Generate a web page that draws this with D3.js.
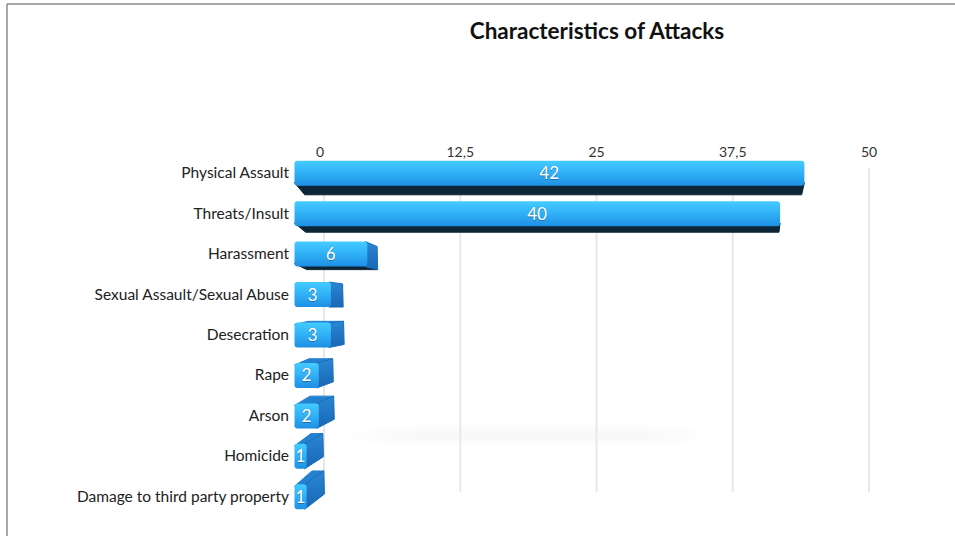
<!DOCTYPE html>
<html>
<head>
<meta charset="utf-8">
<script src="https://cdn.jsdelivr.net/npm/d3@7"></script>
<style>
  html, body { margin: 0; padding: 0; background: #fff; }
  svg { display: block; }
</style>
</head>
<body>
<svg id="chart" width="955" height="536"></svg>
<script>
// Attack categories and their counts
const categories = [
  "Physical Assault",
  "Threats/Insult",
  "Harassment",
  "Sexual Assault/Sexual Abuse",
  "Desecration",
  "Rape",
  "Arson",
  "Homicide",
  "Damage to third party property"
];
const values = [42, 40, 6, 3, 3, 2, 2, 1, 1];
const tickValues = [0, 12.5, 25, 37.5, 50];
const tickLabels = ["0", "12,5", "25", "37,5", "50"];

const svg = d3.select("#chart");
const W = 955, H = 536;
const font = "Lato, 'Open Sans', sans-serif";

// frame lines along top and left
svg.append("line").attr("x1", 7).attr("x2", W).attr("y1", 4).attr("y2", 4)
  .attr("stroke", "#8a8a8a").attr("stroke-width", 1.5);
svg.append("line").attr("x1", 7).attr("x2", 7).attr("y1", 4).attr("y2", H)
  .attr("stroke", "#8a8a8a").attr("stroke-width", 1.5);

// title
svg.append("text")
  .attr("x", 597).attr("y", 39)
  .attr("text-anchor", "middle")
  .attr("font-family", font).attr("font-weight", 700)
  .attr("font-size", 22.5).attr("fill", "#111")
  .text("Characteristics of Attacks");

// back-plane scale (grid) and front-plane scale (bar faces)
const xGrid = d3.scaleLinear().domain([0, 50]).range([324, 869]);
const xFront = d3.scaleLinear().domain([0, 50]).range([294.5, 901.5]);
const y = d3.scaleBand().domain(categories).range([153, 517]).paddingInner(0).paddingOuter(0);
const barH = 25;

const defs = svg.append("defs");
const grad = defs.append("linearGradient").attr("id", "frontGrad")
  .attr("x1", 0).attr("y1", 0).attr("x2", 0).attr("y2", 1);
grad.append("stop").attr("offset", "0%").attr("stop-color", "#45cbff");
grad.append("stop").attr("offset", "45%").attr("stop-color", "#32b3f8");
grad.append("stop").attr("offset", "100%").attr("stop-color", "#1e8fe4");

const sideGrad = defs.append("linearGradient").attr("id", "sideGrad")
  .attr("x1", 0).attr("y1", 0).attr("x2", 0).attr("y2", 1);
sideGrad.append("stop").attr("offset", "0%").attr("stop-color", "#2a86d4");
sideGrad.append("stop").attr("offset", "100%").attr("stop-color", "#1867b4");

const hazeGrad = defs.append("linearGradient").attr("id", "hazeGrad")
  .attr("x1", 0).attr("y1", 0).attr("x2", 1).attr("y2", 0);
hazeGrad.append("stop").attr("offset", "0%").attr("stop-color", "#ebebeb").attr("stop-opacity", 0);
hazeGrad.append("stop").attr("offset", "25%").attr("stop-color", "#ebebeb").attr("stop-opacity", 0.55);
hazeGrad.append("stop").attr("offset", "80%").attr("stop-color", "#ebebeb").attr("stop-opacity", 0.55);
hazeGrad.append("stop").attr("offset", "100%").attr("stop-color", "#ebebeb").attr("stop-opacity", 0);

const blur = defs.append("filter").attr("id", "haze")
  .attr("x", "-20%").attr("y", "-300%").attr("width", "140%").attr("height", "700%");
blur.append("feGaussianBlur").attr("stdDeviation", 5);

const txtShadow = defs.append("filter").attr("id", "txtShadow")
  .attr("x", "-30%").attr("y", "-30%").attr("width", "160%").attr("height", "160%");
txtShadow.append("feDropShadow").attr("dx", 0).attr("dy", 0.6)
  .attr("stdDeviation", 0.7).attr("flood-color", "#0a3a66").attr("flood-opacity", 0.8);

// vertical gridlines
svg.append("g").selectAll("line").data(tickValues).join("line")
  .attr("x1", d => xGrid(d)).attr("x2", d => xGrid(d))
  .attr("y1", 168).attr("y2", 492)
  .attr("stroke", "#e8e8e8").attr("stroke-width", 2);

// soft floor haze behind the lower bars
svg.append("rect")
  .attr("x", 335).attr("y", 431).attr("width", 380).attr("height", 9)
  .attr("fill", "url(#hazeGrad)")
  .attr("filter", "url(#haze)");

// tick labels above the plot
svg.append("g").selectAll("text").data(tickValues).join("text")
  .attr("x", (d, i) => xGrid(d) - (i === 0 ? 4 : 0))
  .attr("y", 157)
  .attr("text-anchor", "middle")
  .attr("font-family", font).attr("font-size", 14).attr("fill", "#333")
  .text((d, i) => tickLabels[i]);

// depth offset of a point on the front plane (perspective toward the back)
const depthX = (px, py) => 13.2 - 0.0254 * px + 0.0243 * py;
const depthY = (py) => 23 - 0.075 * py;

const rows = categories.map((c, i) => {
  const yc = y(c) + y.bandwidth() / 2;
  return { cat: c, v: values[i], x0: xFront(0), x1: xFront(values[i]),
           y0: yc - barH / 2, y1: yc + barH / 2, yc };
});

const bars = svg.append("g");
rows.forEach(r => {
  const g = bars.append("g");
  const dTop = depthY(r.y0), dBot = depthY(r.y1);
  // bottom face (seen from below)
  if (dBot > 0) {
    const a = depthX(r.x0, r.y1), b = depthX(r.x1, r.y1);
    g.append("path")
      .attr("d", `M${r.x0},${r.y1 - 3} L${r.x1},${r.y1 - 3} L${r.x1 + b},${r.y1 + dBot}
                  L${r.x0 + a},${r.y1 + dBot} Z`)
      .attr("fill", "#0c2638").attr("stroke", "#0c2638").attr("stroke-width", 1)
      .attr("stroke-linejoin", "round");
  }
  // top face (seen from above)
  if (dTop < 0) {
    const a = depthX(r.x0, r.y0), b = depthX(r.x1, r.y0);
    g.append("path")
      .attr("d", `M${r.x0},${r.y0 + 2} L${r.x1},${r.y0 + 2} L${r.x1 + b},${r.y0 + dTop}
                  L${r.x0 + a},${r.y0 + dTop} Z`)
      .attr("fill", "#2480d0").attr("stroke", "#2480d0").attr("stroke-width", 1)
      .attr("stroke-linejoin", "round");
  }
  // right side face
  const sTop = depthX(r.x1, r.y0), sBot = depthX(r.x1, r.y1);
  if (sTop > 0) {
    g.append("path")
      .attr("d", `M${r.x1 - 2},${r.y0} L${r.x1 + sTop},${r.y0 + dTop}
                  L${r.x1 + sBot},${r.y1 + dBot} L${r.x1 - 2},${r.y1} Z`)
      .attr("fill", "url(#sideGrad)").attr("stroke", "#1a6cbc").attr("stroke-width", 1)
      .attr("stroke-linejoin", "round");
  }
  // front face
  g.append("rect")
    .attr("x", r.x0).attr("y", r.y0)
    .attr("width", r.x1 - r.x0).attr("height", barH)
    .attr("rx", 3).attr("ry", 3)
    .attr("fill", "url(#frontGrad)");
  // value label
  g.append("text")
    .attr("x", (r.x0 + r.x1) / 2).attr("y", r.yc + 6)
    .attr("text-anchor", "middle")
    .attr("font-family", font).attr("font-size", 17).attr("fill", "#fff")
    .attr("filter", "url(#txtShadow)")
    .text(r.v);
});

// category labels
svg.append("g").selectAll("text").data(categories).join("text")
  .attr("x", 289)
  .attr("y", d => y(d) + y.bandwidth() / 2 + 5)
  .attr("text-anchor", "end")
  .attr("font-family", font).attr("font-size", 15.5).attr("fill", "#222")
  .text(d => d);
</script>
</body>
</html>
